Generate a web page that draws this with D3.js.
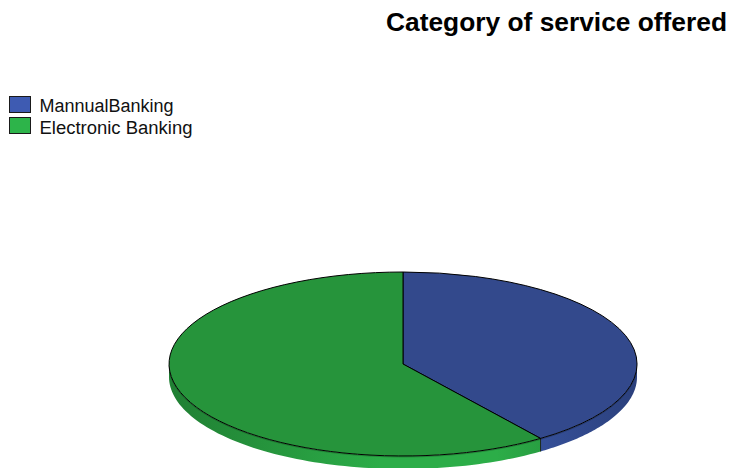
<!DOCTYPE html>
<html>
<head>
<meta charset="utf-8">
<script src="https://cdn.jsdelivr.net/npm/d3@7"></script>
<style>
  html, body { margin: 0; padding: 0; background: #ffffff; }
  svg { display: block; }
</style>
</head>
<body>
<svg id="chart" width="732" height="468"></svg>
<script>
// ---- data ----
const title = "Category of service offered";
const categories = ["MannualBanking", "Electronic Banking"];
const values = [40, 60];
const topColors = ["#33498c", "#26943b"];
const legendColors = ["#3e5bb2", "#2db44a"];
const sideLight = ["#3a57a6", "#2cad48"];
const sideDark = ["#2b407c", "#207f33"];

const W = 732, H = 468;
const svg = d3.select("#chart");

const cx = 403, cy = 364, rx = 234, ry = 92, depth = 13;

// title
svg.append("text")
  .attr("x", 386).attr("y", 31)
  .attr("font-family", "Arial, 'Liberation Sans', sans-serif")
  .attr("font-weight", "bold")
  .attr("font-size", 26)
  .attr("textLength", 341)
  .attr("lengthAdjust", "spacingAndGlyphs")
  .attr("fill", "#000")
  .text(title);

// legend
const legendWidths = [134, 153];
const lg = svg.append("g");
categories.forEach((c, i) => {
  lg.append("rect")
    .attr("x", 9.5).attr("y", 96.5 + i * 21)
    .attr("width", 21).attr("height", 16)
    .attr("fill", legendColors[i])
    .attr("stroke", "#1a1a1a").attr("stroke-width", 1);
  lg.append("text")
    .attr("x", 39.5).attr("y", 112 + i * 21.5)
    .attr("font-family", "Arial, 'Liberation Sans', sans-serif")
    .attr("font-size", 18)
    .attr("textLength", legendWidths[i])
    .attr("lengthAdjust", "spacingAndGlyphs")
    .attr("fill", "#111")
    .text(c);
});

// pie
const pie = d3.pie().sort(null).startAngle(0).endAngle(2 * Math.PI);
const arcs = pie(values);

const pt = (a, dy = 0) => [cx + rx * Math.sin(a), cy - ry * Math.cos(a) + dy];

const defs = svg.append("defs");
arcs.forEach((d, i) => {
  const g = defs.append("linearGradient")
    .attr("id", "side" + i)
    .attr("gradientUnits", "userSpaceOnUse")
    .attr("x1", cx - rx).attr("x2", cx + rx).attr("y1", 0).attr("y2", 0);
  g.append("stop").attr("offset", "0%").attr("stop-color", sideDark[i]);
  g.append("stop").attr("offset", "45%").attr("stop-color", sideLight[i]);
  g.append("stop").attr("offset", "70%").attr("stop-color", sideLight[i]);
  g.append("stop").attr("offset", "100%").attr("stop-color", sideDark[i]);
});

// side walls (front half: angles between PI/2 and 3PI/2)
const sideG = svg.append("g");
arcs.forEach((d, i) => {
  const a0 = Math.max(d.startAngle, Math.PI / 2);
  const a1 = Math.min(d.endAngle, 3 * Math.PI / 2);
  if (a1 <= a0) return;
  const n = 80;
  const top = d3.range(n + 1).map(k => pt(a0 + (a1 - a0) * k / n));
  const bot = top.slice().reverse().map(p => [p[0], p[1] + depth]);
  sideG.append("path")
    .attr("d", d3.line()(top.concat(bot)) + "Z")
    .attr("fill", `url(#side${i})`)
    .attr("stroke", "none");
});
// seam line on side where slices meet
arcs.forEach(d => {
  const a = d.endAngle;
  if (a > Math.PI / 2 && a < 3 * Math.PI / 2) {
    const p = pt(a);
    sideG.append("line")
      .attr("x1", p[0]).attr("y1", p[1]).attr("x2", p[0]).attr("y2", p[1] + depth)
      .attr("stroke", "#1c2a1c").attr("stroke-width", 1);
  }
});
// faint line along top rim of side
sideG.append("path")
  .attr("d", d3.line()(d3.range(0, 81).map(k => pt(Math.PI / 2 + Math.PI * k / 80, 1))))
  .attr("fill", "none").attr("stroke", "rgba(0,0,0,0.25)").attr("stroke-width", 0.8);

// top faces
const arcGen = d3.arc().innerRadius(0).outerRadius(1);
svg.append("g")
  .attr("transform", `translate(${cx},${cy}) scale(${rx},${ry})`)
  .selectAll("path")
  .data(arcs)
  .join("path")
  .attr("d", arcGen)
  .attr("fill", (d, i) => topColors[i])
  .attr("stroke", "#000")
  .attr("stroke-width", 1)
  .attr("vector-effect", "non-scaling-stroke")
  .attr("stroke-linejoin", "round");
</script>
</body>
</html>
